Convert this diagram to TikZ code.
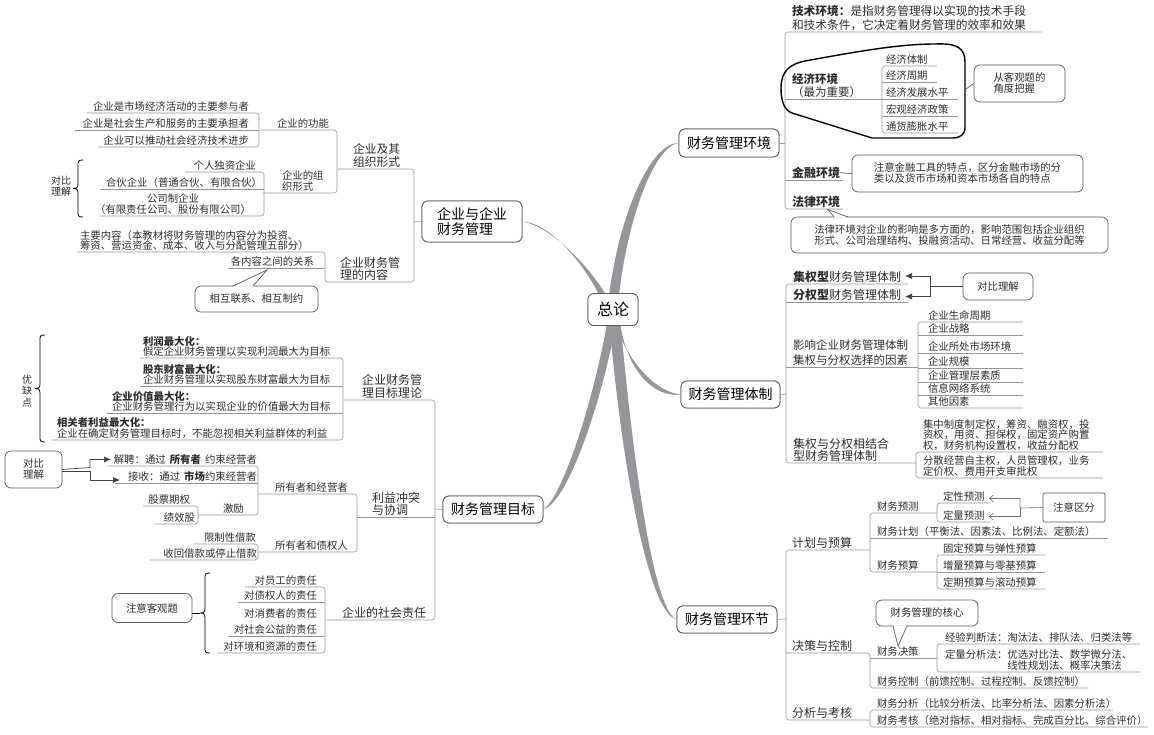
\documentclass[tikz,border=0pt]{standalone}
\usepackage{fontspec}
\setmainfont{Noto Sans CJK SC}
\usetikzlibrary{arrows.meta,calc}
\definecolor{lnc}{RGB}{150,150,150}
\definecolor{txc}{RGB}{45,45,45}
\definecolor{brc}{RGB}{150,150,154}
\definecolor{bxc}{RGB}{90,90,90}
\newcommand\fsz[2]{\fontsize{#1}{#2}\selectfont}
\newcommand\mybrace[3]{%
  \pgfmathsetmacro\mybm{(#2+#3)/2}%
  \draw[bracestyle] (#1+5,#2) .. controls (#1,#2) and (#1,#2+1) .. (#1,#2+6) -- (#1,\mybm-5) .. controls (#1,\mybm-1) and (#1-1,\mybm) .. (#1-5,\mybm) .. controls (#1-1,\mybm) and (#1,\mybm+1) .. (#1,\mybm+5) -- (#1,#3-6) .. controls (#1,#3-1) and (#1,#3) .. (#1+5,#3);}
\tikzset{
 ln/.style={draw=lnc,line width=0.6pt,rounded corners=3pt},
 tl/.style={inner sep=0pt,outer sep=0pt,text=txc,font=\fsz{10.4}{10.8}},
 tr/.style={tl,anchor=south west,align=left},
 tL/.style={tl,anchor=south east,align=right},
 mainbox/.style={draw=bxc,line width=0.8pt,rounded corners=6pt,fill=white,font=\fsz{14}{15},text=black,inner sep=0pt,align=left},
 callout/.style={draw=bxc,line width=0.7pt,rounded corners=6pt,fill=white,inner sep=0pt,font=\fsz{10.4}{11},text=txc,align=left},
 taper/.style={fill=brc},
 bracestyle/.style={draw=black,line width=0.8pt},
 blobline/.style={draw=black,line width=1.4pt},
 arrb/.style={draw=black!75,line width=0.7pt,-{Latex[length=7pt,width=6pt]}},
 arro/.style={draw=black!55,line width=0.6pt,-{Straight Barb[length=4pt,width=7pt]}},
 ptr/.style={draw=bxc,line width=0.7pt},
}
\begin{document}
\begin{tikzpicture}[x=1pt,y=-1pt]
\useasboundingbox (0,0) rectangle (1154,734);
\fill[white] (0,0) rectangle (1154,734);

% ---------- main nodes (placed first for names) ----------
\node[mainbox,minimum width=50pt,minimum height=32pt,font=\fsz{16}{17}] (zl) at (613,309.5) {总论};
\node[mainbox,minimum width=100pt,minimum height=28pt] (hj) at (729,143) {财务管理环境};
\node[mainbox,minimum width=99pt,minimum height=27pt] (tz) at (730.5,394.5) {财务管理体制};
\node[mainbox,minimum width=100pt,minimum height=41pt] (qy) at (472,221.5) {企业与企业\\财务管理};
\node[mainbox,minimum width=100pt,minimum height=27pt] (mb) at (493,509.5) {财务管理目标};
\node[mainbox,minimum width=100pt,minimum height=27pt] (hjie) at (727,619.5) {财务管理环节};

% ---------- tapered branches ----------
\begin{scope}[on background layer/.style={}]
\fill[taper] (608,305) .. controls (616,225) and (648,143) .. (hj.west) .. controls (652,147) and (625,228) .. (618,305) -- cycle;
\fill[taper] (604,305) .. controls (585,262) and (548,222) .. (qy.east) .. controls (550,226) and (591,266) .. (612,305) -- cycle;
\fill[taper] (611,315) .. controls (630,368) and (658,392) .. (tz.west) .. controls (655,398) and (625,372) .. (619,315) -- cycle;
\fill[taper] (608,318) .. controls (592,410) and (560,500) .. (mb.east) .. controls (566,503) and (600,412) .. (617,318) -- cycle;
\fill[taper] (609,318) .. controls (621,460) and (648,613) .. (hjie.west) .. controls (653,610) and (633,460) .. (620,318) -- cycle;
\end{scope}
% redraw main nodes on top
\node[mainbox,minimum width=50pt,minimum height=32pt,font=\fsz{16}{17}] at (zl) {总论};
\node[mainbox,minimum width=100pt,minimum height=28pt] at (hj) {财务管理环境};
\node[mainbox,minimum width=99pt,minimum height=27pt] at (tz) {财务管理体制};
\node[mainbox,minimum width=100pt,minimum height=41pt] at (qy) {企业与企业\\财务管理};
\node[mainbox,minimum width=100pt,minimum height=27pt] at (mb) {财务管理目标};
\node[mainbox,minimum width=100pt,minimum height=27pt] at (hjie) {财务管理环节};

% =============== 财务管理环境 ===============
\draw[ln] (hj.east) -- (785,143);
\draw[ln] (1043,32) -- (785,32) -- (785,209) -- (843,209);
\draw[ln] (785,99) -- (882,99);
\draw[ln] (785,180) -- (843,180);
\draw[ln] (937,66) -- (882,66) -- (882,133) -- (958,133);
\draw[ln] (882,82) -- (937,82);
\draw[ln] (882,99) -- (958,99);
\draw[ln] (882,116) -- (958,116);

\node[tr,font=\fsz{11.7}{13.5}] (js) at (792,30.5) {\textbf{技术环境：}是指财务管理得以实现的技术手段\\和技术条件，它决定着财务管理的效率和效果};
\node[tr,font=\fsz{11.5}{12.5}] (jj) at (792,97.5) {\textbf{经济环境}\\（最为重要）};
\node[tr] (jj1) at (886,64.5) {经济体制};
\node[tr] (jj2) at (886,80.5) {经济周期};
\node[tr] (jj3) at (886,97.5) {经济发展水平};
\node[tr] (jj4) at (886,114.5) {宏观经济政策};
\node[tr] (jj5) at (886,131.5) {通货膨胀水平};
\draw[blobline] (781,88) .. controls (781,71) and (790,64) .. (805,61) .. controls (860,51) and (900,44) .. (935,44) .. controls (957,43) and (965,48) .. (965,62) -- (965,127) .. controls (965,135) and (960,138) .. (952,138) -- (872,138) -- (792,113) .. controls (784,110) and (781,101) .. (781,88) -- cycle;
\node[callout,minimum width=91pt,minimum height=37pt] (kg) at (1019.5,83.5) {从客观题的\\角度把握};
\coordinate (blobr) at (966,89);
\draw[ptr] (blobr) -- (kg.west);

\node[tr,font=\fsz{12}{13}\bfseries] (jr) at (792,178.5) {金融环境};
\node[callout,minimum width=231pt,minimum height=37pt] (jrc) at (967.5,173.5) {注意金融工具的特点，区分金融市场的分\\类以及货币市场和资本市场各自的特点};
\draw[ptr] (jr.east) -- (jrc.west);

\node[tr,font=\fsz{12}{13}\bfseries] (fl) at (792,207.5) {法律环境};
\node[callout,minimum width=317pt,minimum height=36pt] (flc) at (949.5,235) {法律环境对企业的影响是多方面的，影响范围包括企业组织\\形式、公司治理结构、投融资活动、日常经营、收益分配等};
\fill[white] (834,217.6) -- (828,209.5) -- (848,217.6) -- cycle;
\draw[ptr] (834,217) -- (828,209.5) -- (848,217);

% =============== 财务管理体制 ===============
\draw[ln] (tz.east) -- (786,394);
\draw[ln] (908,284) -- (786,284) -- (786,463) -- (916,463);
\draw[ln] (786,302) -- (908,302);
\draw[ln] (786,367) -- (918,367);
\draw[ln] (1023,322) -- (918,322) -- (918,408) -- (1023,408);
\foreach \yy in {335,353,368,382,395} \draw[ln] (918,\yy) -- (1023,\yy);
\draw[ln] (1103,452) -- (916,452) -- (916,478) -- (1103,478);

\node[tr,font=\fsz{12}{13}] (jq) at (793,282.5) {\textbf{集权型}财务管理体制};
\node[tr,font=\fsz{12}{13}] (fq) at (793,300.5) {\textbf{分权型}财务管理体制};
\node[callout,minimum width=70pt,minimum height=27pt] (db1) at (998,286.5) {对比理解};
\coordinate (jqa) at (905,276);
\coordinate (fqa) at (905,296.5);
\coordinate (dbj) at (930,286.5);
\draw[arrb] (db1.west) -- (dbj) |- (jqa);
\draw[arrb] (dbj) |- (fqa);

\node[tr,font=\fsz{11.5}{15}] (yx) at (793,365.5) {影响企业财务管理体制\\集权与分权选择的因素};
\node[tr] (f1) at (928,320.5) {企业生命周期};
\node[tr] (f2) at (928,333.5) {企业战略};
\node[tr] (f3) at (928,351.5) {企业所处市场环境};
\node[tr] (f4) at (928,366.5) {企业规模};
\node[tr] (f5) at (928,380.5) {企业管理层素质};
\node[tr] (f6) at (928,393.5) {信息网络系统};
\node[tr] (f7) at (928,406.5) {其他因素};

\node[tr,font=\fsz{12}{11.8}] (jh) at (793,461.5) {集权与分权相结合\\型财务管理体制};
\node[tr,font=\fsz{10.4}{10.6}] (jh1) at (923,450.5) {集中制度制定权，筹资、融资权，投\\资权，用资、担保权，固定资产购置\\权，财务机构设置权，收益分配权};
\node[tr,font=\fsz{10.4}{10.6}] (jh2) at (923,476.5) {分散经营自主权，人员管理权，业务\\定价权、费用开支审批权};

% =============== 财务管理环节 ===============
\draw[ln] (hjie.east) -- (786,619);
\draw[ln] (870,550) -- (786,550) -- (786,720) -- (870,720);
\draw[ln] (937,513) -- (870,513) -- (870,572) -- (937,572);
\draw[ln] (870,538) -- (1108,538);
\draw[ln] (990,503) -- (937,503) -- (937,522) -- (990,522);
\draw[ln] (1045,555) -- (937,555) -- (937,589) -- (1045,589);
\draw[ln] (937,572) -- (1045,572);
\draw[ln] (786,653) -- (870,653) -- (870,688) -- (1088,688);
\draw[ln] (870,658) -- (937,658);
\draw[ln] (1140,644) -- (937,644) -- (937,672) -- (1140,672);
\draw[ln] (1113,710) -- (870,710) -- (870,727) -- (1148,727);

\node[tr,font=\fsz{12}{13}] (jhys) at (792,548.5) {计划与预算};
\node[tr] (cwyc) at (877,511.5) {财务预测};
\node[tr] (dx) at (943,501.5) {定性预测};
\node[tr] (dl) at (943,520.5) {定量预测};
\node[callout,rounded corners=2pt,minimum width=62pt,minimum height=29pt] (zq) at (1074,507.5) {注意区分};
\coordinate (dxa) at (989,498.5);
\coordinate (dla) at (989,516.5);
\coordinate (zqj) at (1020,508);
\draw[arro] (zq.west) -- (zqj) |- (dxa);
\draw[arro] (zqj) |- (dla);
\node[tr] (cwjh) at (877,536.5) {财务计划（平衡法、因素法、比例法、定额法）};
\node[tr] (cwys) at (877,570.5) {财务预算};
\node[tr] (ys1) at (943,553.5) {固定预算与弹性预算};
\node[tr] (ys2) at (943,570.5) {增量预算与零基预算};
\node[tr] (ys3) at (943,587.5) {定期预算与滚动预算};

\node[tr,font=\fsz{12}{13}] (jckz) at (792,651.5) {决策与控制};
\node[tr] (cwjc) at (877,656.5) {财务决策};
\node[tr] (jy) at (945,642.5) {经验判断法：淘汰法、排队法、归类法等};
\node[tr,font=\fsz{10.4}{11}] (dlf) at (945,670.5) {定量分析法：优选对比法、数学微分法、\\\hspace*{6em}线性规划法、概率决策法};
\node[callout,minimum width=102pt,minimum height=26pt,align=center] (hx) at (927,613) {财务管理的核心};
\fill[white] (893,625.4) -- (898,646) -- (907,625.4) -- cycle;
\draw[ptr] (893,626) -- (898,646) -- (907,626);
\node[tr] (cwkz) at (877,686.5) {财务控制（前馈控制、过程控制、反馈控制）};

\node[tr,font=\fsz{12}{13}] (fxkh) at (792,718.5) {分析与考核};
\node[tr] (cwfx) at (877,708.5) {财务分析（比较分析法、比率分析法、因素分析法）};
\node[tr] (cwkh) at (877,725.5) {财务考核（绝对指标、相对指标、完成百分比、综合评价）};

% =============== 企业与企业财务管理 ===============
\draw[ln] (qy.west) -- (414,222);
\draw[ln] (338,169) -- (414,169) -- (414,282) -- (325,282) -- (325,252) -- (77,252);
\draw[ln] (228,268) -- (325,268);
\draw[ln] (260,130) -- (337,130) -- (337,193) -- (263,193);
\draw[ln] (87,113) -- (259,113) -- (259,147) -- (98,147);
\draw[ln] (75,130) -- (259,130);
\draw[ln] (185,172) -- (264,172) -- (264,216) -- (100,216);
\draw[ln] (100,189) -- (264,189);

\node[tr,font=\fsz{11.8}{12.5}] (qyzz) at (353,167.5) {企业及其\\组织形式};
\node[tr] (qygn) at (277,128.5) {企业的功能};
\node[tL] (gn1) at (249,111.5) {企业是市场经济活动的主要参与者};
\node[tL] (gn2) at (249,128.5) {企业是社会生产和服务的主要承担者};
\node[tL] (gn3) at (249,145.5) {企业可以推动社会经济技术进步};
\node[tr,font=\fsz{10.4}{11}] (qyxs) at (282,191.5) {企业的组\\织形式};
\node[tL] (xs1) at (256,170.5) {个人独资企业};
\node[tL] (xs2) at (262,187.5) {合伙企业（普通合伙、有限合伙）};
\node[tL,align=center,font=\fsz{10.4}{11}] (xs3) at (251,214.5) {公司制企业\\（有限责任公司、股份有限公司）};
\mybrace{78}{160}{217}
\node[tl,align=center,font=\fsz{10}{11}] (dbl1) at (61,186) {对比\\理解};

\node[tr,font=\fsz{12}{12.5}] (qynr) at (340,280.5) {企业财务管\\理的内容};
\node[tr,font=\fsz{10.4}{10.5}] (nr1) at (80,250.5) {主要内容（本教材将财务管理的内容分为投资、\\筹资、营运资金、成本、收入与分配管理五部分）};
\node[tL] (nr2) at (314,266.5) {各内容之间的关系};
\node[callout,minimum width=123pt,minimum height=26pt,align=center] (hxlx) at (256.5,299) {相互联系、相互制约};
\fill[white] (233,286.6) -- (267,270) -- (253,286.6) -- cycle;
\draw[ptr] (233,286) -- (267,270) -- (253,286);

% =============== 财务管理目标 ===============
\draw[ln] (mb.west) -- (435,509);
\draw[ln] (343,400) -- (435,400) -- (435,620) -- (325,620);
\draw[ln] (357,517) -- (435,517);
\draw[ln] (140,358) -- (343,358) -- (343,440) -- (52,440);
\draw[ln] (140,386) -- (343,386);
\draw[ln] (107,413) -- (343,413);
\draw[ln] (258,494) -- (357,494) -- (357,552) -- (258,552);
\draw[ln] (107,466) -- (258,466) -- (258,515) -- (198,515);
\draw[ln] (115,483) -- (258,483);
\draw[ln] (143,506) -- (198,506) -- (198,524) -- (155,524);
\draw[ln] (193,544) -- (258,544) -- (258,560) -- (150,560);
\draw[ln] (245,587) -- (325,587) -- (325,653) -- (217,653);
\draw[ln] (238,602) -- (325,602);
\draw[ln] (228,636) -- (325,636);

\node[tr,font=\fsz{12}{13}] (mbll) at (362,398.5) {企业财务管\\理目标理论};
\node[tr,font=\fsz{10.4}{10.5}] (l1) at (143,356.5) {\textbf{利润最大化：}\\假定企业财务管理以实现利润最大为目标};
\node[tr,font=\fsz{10.4}{10.5}] (l2) at (143,384.5) {\textbf{股东财富最大化：}\\企业财务管理以实现股东财富最大为目标};
\node[tr,font=\fsz{10.4}{10.5}] (l3) at (112,411.5) {\textbf{企业价值最大化：}\\企业财务管理行为以实现企业的价值最大为目标};
\node[tr,font=\fsz{10.4}{10.5}] (l4) at (57,438.5) {\textbf{相关者利益最大化：}\\企业在确定财务管理目标时，不能忽视相关利益群体的利益};
\mybrace{40}{335}{442}
\node[tl,align=center,font=\fsz{10}{11.5}] (yqd) at (27,391) {优\\缺\\点};

\node[tr,font=\fsz{12}{12.5}] (lyct) at (372,515.5) {利益冲突\\与协调};
\node[tr] (syj) at (275,492.5) {所有者和经营者};
\node[tL] (jp) at (257,464.5) {解聘：通过\hspace{4pt}\textbf{所有者}\hspace{4pt}约束经营者};
\node[tL] (jsh) at (257,481.5) {接收：通过\hspace{4pt}\textbf{市场}约束经营者};
\node[tr] (jl) at (223,513.5) {激励};
\node[tL] (gp) at (190,504.5) {股票期权};
\node[tL] (jxg) at (195,522.5) {绩效股};
\node[callout,minimum width=57pt,minimum height=37pt,align=center] (dbl2) at (33.5,469.5) {对比\\理解};
\coordinate (jpa) at (111,459.5);
\coordinate (jsa) at (120,480);
\draw[arrb] (dbl2.east) -- (90,467.5) |- (jpa);
\draw[arrb] ($(dbl2.east)+(0,2)$) -- (90,471.5) |- (jsa);
\node[tr] (syz) at (275,550.5) {所有者和债权人};
\node[tL] (xz) at (256,542.5) {限制性借款};
\node[tL] (sh) at (257,558.5) {收回借款或停止借款};

\node[tr,font=\fsz{12}{13}] (shzr) at (342,618.5) {企业的社会责任};
\node[tL] (z1) at (317,585.5) {对员工的责任};
\node[tL] (z2) at (317,600.5) {对债权人的责任};
\node[tL] (z3) at (317,618.5) {对消费者的责任};
\node[tL] (z4) at (317,634.5) {对社会公益的责任};
\node[tL] (z5) at (317,651.5) {对环境和资源的责任};
\mybrace{205}{573}{653}
\node[callout,minimum width=80pt,minimum height=29pt,align=center] (kgt) at (152,608) {注意客观题};
\coordinate (bt3) at (200,613);
\draw[bracestyle] (kgt.east |- bt3) -- (bt3);
\end{tikzpicture}
\end{document}
